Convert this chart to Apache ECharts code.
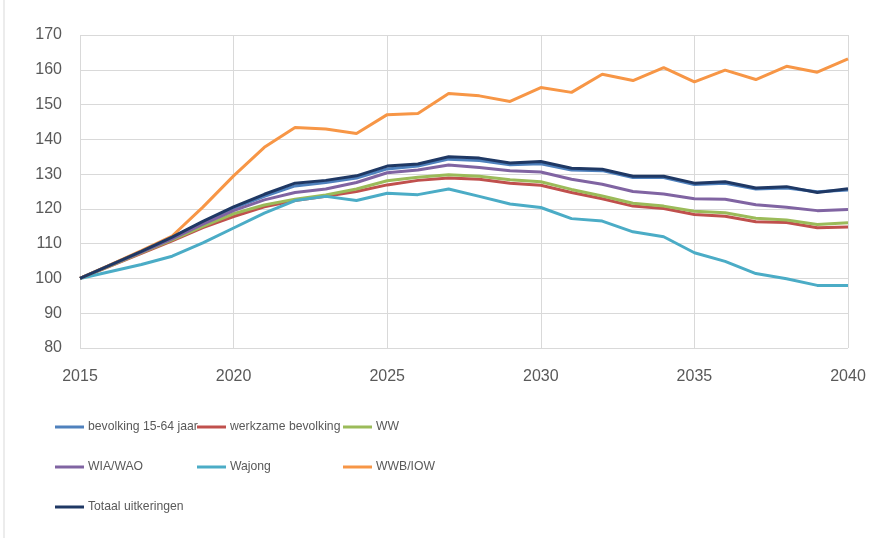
<!DOCTYPE html>
<html>
<head>
<meta charset="utf-8">
<script src="https://cdn.jsdelivr.net/npm/echarts@6/dist/echarts.min.js"></script>
<style>html,body{margin:0;padding:0;background:#fff;}#c{width:886px;height:538px;}</style>
</head>
<body>
<div id="c"></div>
<script>
var years = [2015,2016,2017,2018,2019,2020,2021,2022,2023,2024,2025,2026,2027,2028,2029,2030,2031,2032,2033,2034,2035,2036,2037,2038,2039,2040];
var bevolking = [100,103.9,107.8,111.8,116.1,120.2,123.6,126.6,127.6,128.9,131.5,132.3,134.3,133.9,132.7,133.0,131.2,131.0,129.0,129.0,127.0,127.4,125.7,126.0,124.9,125.4];
var werkzame = [100,103.6,107.2,110.8,114.6,117.8,120.6,122.4,123.6,125.0,126.9,128.2,128.9,128.5,127.4,126.8,124.7,122.9,120.8,120.1,118.4,117.9,116.3,116.1,114.6,114.8];
var ww = [100,103.7,107.4,111.1,115.0,118.6,121.1,122.8,124.0,125.7,128.1,129.1,129.8,129.4,128.4,127.8,125.6,123.7,121.6,120.8,119.3,118.9,117.3,116.8,115.5,116.0];
var wiaWao = [100,103.8,107.6,111.4,115.6,119.5,122.6,124.7,125.7,127.6,130.4,131.2,132.6,131.9,131.0,130.6,128.5,127.1,125.0,124.3,122.9,122.8,121.2,120.5,119.5,119.8];
var wajong = [100,102.0,104.0,106.4,110.2,114.5,118.8,122.4,123.6,122.4,124.5,124.1,125.7,123.6,121.4,120.4,117.2,116.5,113.4,112.0,107.4,104.9,101.4,99.9,98.0,98.0];
var wwbIow = [100,104.0,108.0,112.2,120.5,129.5,137.7,143.4,143.0,141.7,147.1,147.4,153.2,152.5,150.9,154.9,153.5,158.7,156.9,160.6,156.5,159.9,157.2,161.0,159.3,163.1];
var totaal = [100,103.9,107.8,111.9,116.4,120.6,124.2,127.4,128.2,129.5,132.3,132.9,135.0,134.6,133.2,133.6,131.7,131.4,129.4,129.4,127.4,127.8,126.0,126.4,124.7,125.8];

var names = ['bevolking 15-64 jaar','werkzame bevolking','WW','WIA/WAO','Wajong','WWB/IOW','Totaal uitkeringen'];
var values = [bevolking, werkzame, ww, wiaWao, wajong, wwbIow, totaal];
var colors = ['#4F81BD','#C0504D','#9BBB59','#8064A2','#4BACC6','#F79646','#1F3864'];
var legendPos = [[55,421],[197,421],[343,421],[55,461],[197,461],[343,461],[55,501]];

var FONT = "'Liberation Sans',Arial,sans-serif";

var series = names.map(function(n,i){
  return {
    name: n, type: 'line', symbol: 'none', smooth: false,
    lineStyle: {width: 3, color: colors[i]}, itemStyle: {color: colors[i]},
    data: years.map(function(y,j){ return [y, values[i][j]]; }),
    z: 2 + i
  };
});

var legends = names.map(function(n,i){
  return {
    data: [n], left: legendPos[i][0], top: legendPos[i][1],
    icon: 'rect', itemWidth: 29, itemHeight: 3, itemGap: 0,
    textStyle: {fontFamily: FONT, fontSize: 12.2, color: '#595959', padding: [0,0,0,-1]},
    padding: 0, selectedMode: false
  };
});

var chart = echarts.init(document.getElementById('c'));
chart.setOption({
  animation: false,
  backgroundColor: '#fff',
  grid: {left: 80, right: 38, top: 35, bottom: 190, containLabel: false},
  xAxis: {
    type: 'value', min: 2015, max: 2040, interval: 5,
    axisLine: {show: false}, axisTick: {show: false},
    splitLine: {show: true, lineStyle: {color: '#D9D9D9', width: 1}},
    axisLabel: {formatter: function(v){ return String(v); }, fontFamily: FONT, fontSize: 16, color: '#595959', margin: 21}
  },
  yAxis: {
    type: 'value', min: 80, max: 170, interval: 10,
    axisLine: {show: false}, axisTick: {show: false},
    splitLine: {show: true, lineStyle: {color: '#D9D9D9', width: 1}},
    axisLabel: {fontFamily: FONT, fontSize: 16, color: '#595959', margin: 18}
  },
  legend: legends,
  graphic: [{type: 'line', shape: {x1: 4, y1: 0, x2: 4, y2: 538}, style: {stroke: '#D9D9D9', lineWidth: 1}}],
  series: series
});
</script>
</body>
</html>
